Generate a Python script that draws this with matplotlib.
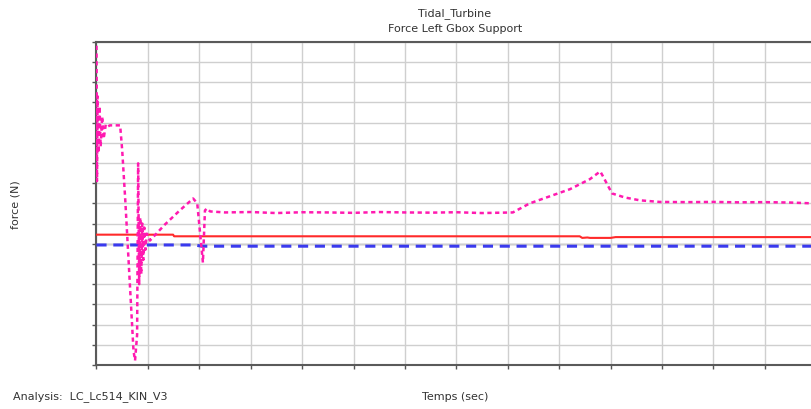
import matplotlib
matplotlib.use("Agg")
import matplotlib.pyplot as plt
import numpy as np

# ---- data (x in grid units of time, y in grid units of force) ----
mag_t = [0.00, 0.01, 0.02, 0.04, 0.06, 0.08, 0.11, 0.14, 0.18, 0.22, 0.26, 0.46,
         0.50, 0.56, 0.72, 0.75, 0.79, 0.81, 0.83, 0.85, 0.87, 0.89, 0.91, 0.93, 0.95,
         0.98, 1.04, 1.33, 1.62, 1.88, 1.96, 2.07, 2.11, 2.15, 2.21, 2.5, 3.0, 3.5, 4.0,
         4.5, 5.0, 5.5, 6.0, 6.5, 7.0, 7.5, 8.10, 8.43, 8.82, 9.21, 9.60, 9.80, 9.84,
         10.03, 10.28, 10.57, 10.96, 11.5, 12.0, 12.5, 13.0, 13.5, 13.92]
mag_v = [9.8, 3.1, 7.3, 4.5, 6.8, 4.8, 6.3, 5.2, 5.9, 5.8, 5.86, 5.86,
         4.62, 2.15, -5.3, -5.78, -4.5, 3.98, -2.0, 1.3, -1.5, 1.0, -0.8, 0.8, -0.3,
         0.5, 0.16, 0.95, 1.65, 2.24, 2.0, -0.93, 1.65, 1.75, 1.6, 1.55, 1.57, 1.52, 1.56,
         1.55, 1.53, 1.57, 1.55, 1.54, 1.56, 1.52, 1.55, 2.0, 2.35, 2.7, 3.2, 3.58, 3.4,
         2.49, 2.29, 2.15, 2.07, 2.06, 2.07, 2.05, 2.06, 2.04, 2.0]

red_t = [0.0, 1.49, 1.51, 9.40, 9.45, 9.55, 9.60, 10.00, 10.10, 13.92]
red_v = [0.45, 0.45, 0.37, 0.37, 0.29, 0.31, 0.29, 0.29, 0.33, 0.33]

blue_t = [0.0, 1.90, 2.05, 13.92]
blue_v = [-0.06, -0.06, -0.12, -0.12]

x_ticks = list(range(0, 14))
y_ticks = list(range(-6, 11))

W, H = 812, 409
fig = plt.figure(figsize=(W / 100, H / 100), dpi=100)
ax = fig.add_axes([96.5 / W, 1 - 365 / H, (W - 96.5) / W, (365 - 41.7) / H])

ax.set_xlim(0, 13.92)
ax.set_ylim(-6, 10)
ax.set_xticks(x_ticks)
ax.set_yticks(y_ticks)
ax.set_xticklabels([])
ax.set_yticklabels([])
ax.grid(True, color="#cfcfcf", linewidth=1.0)
ax.axhline(0, color="#8a8a8a", linewidth=1.0, zorder=1)
ax.tick_params(axis="both", length=3, width=1, color="#555555", direction="out")

for s in ["left", "bottom", "top"]:
    ax.spines[s].set_color("#5a5a5a")
    ax.spines[s].set_linewidth(1.5)
ax.spines["right"].set_visible(False)

ax.plot(red_t, red_v, color="#ff2a2a", linewidth=1.5, zorder=3)
ax.plot(blue_t, blue_v, color="#3a3aee", linewidth=2.2, dashes=(3.3, 2.2), zorder=3)
ax.plot(mag_t, mag_v, color="#ff1ab0", linewidth=1.8, dashes=(1.7, 1.4), zorder=4)

tc = "#333333"
fs = 8
fig.text(455 / W, 1 - 14 / H, "Tidal_Turbine", ha="center", va="center", fontsize=fs, color=tc)
fig.text(455 / W, 1 - 29 / H, "Force Left Gbox Support", ha="center", va="center", fontsize=fs, color=tc)
fig.text(15 / W, 1 - 205 / H, "force (N)", ha="center", va="center", rotation=90, fontsize=fs, color=tc)
fig.text(455 / W, 1 - 397 / H, "Temps (sec)", ha="center", va="center", fontsize=fs, color=tc)
fig.text(13 / W, 1 - 397 / H, "Analysis:  LC_Lc514_KIN_V3", ha="left", va="center", fontsize=fs, color=tc)

fig.savefig("out.png", dpi=100)
